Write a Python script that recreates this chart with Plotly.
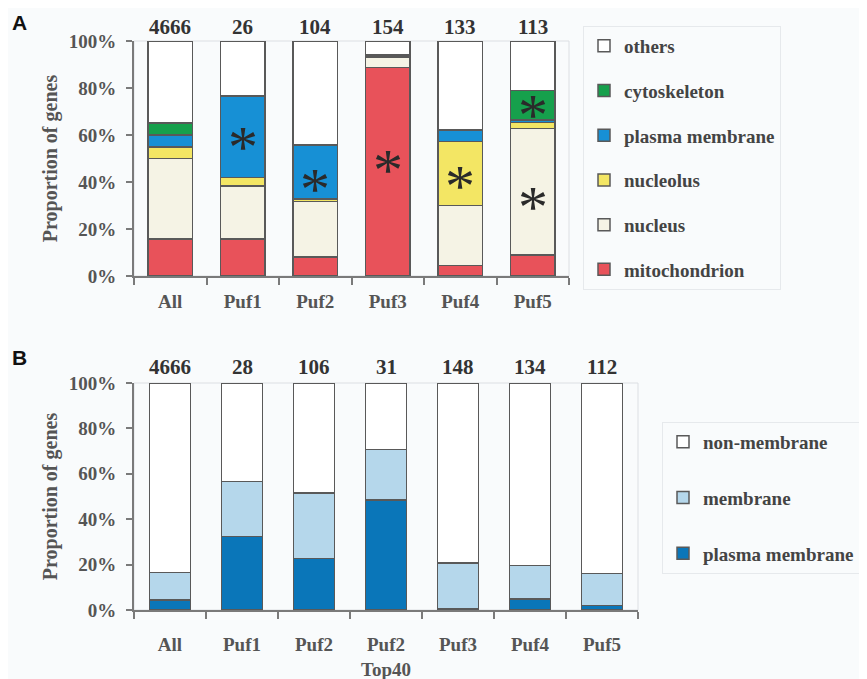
import plotly.graph_objects as go

# ---------------- Panel A data ----------------
cats_a = ["All", "Puf1", "Puf2", "Puf3", "Puf4", "Puf5"]
counts_a = ["4666", "26", "104", "154", "133", "113"]
mito = [15.7, 15.7, 8.1, 88.7, 4.4, 8.9]
nucleus = [34.4, 22.7, 23.5, 4.3, 25.7, 53.9]
nucleolus = [4.8, 3.6, 1.2, 0.0, 27.1, 2.6]
plasma = [5.2, 34.6, 22.9, 0.6, 4.9, 1.0]
cyto = [5.1, 0.0, 0.0, 0.4, 0.3, 12.5]
others = [34.8, 23.4, 44.3, 6.0, 37.6, 21.1]
star_cats = ["Puf1", "Puf2", "Puf3", "Puf4", "Puf5", "Puf5"]
star_vals = [58.6, 40.9, 48.9, 42.3, 72.3, 33.0]

# ---------------- Panel B data ----------------
cats_b = ["All", "Puf1", "Puf2", "Puf2<br>Top40", "Puf3", "Puf4", "Puf5"]
counts_b = ["4666", "28", "106", "31", "148", "134", "112"]
pm_b = [4.4, 32.3, 22.6, 48.4, 0.6, 4.8, 1.9]
memb_b = [12.2, 24.4, 29.0, 22.4, 20.2, 14.7, 14.1]
nonmemb_b = [83.4, 43.3, 48.4, 29.2, 79.2, 80.5, 84.0]

tick_vals = [0, 20, 40, 60, 80, 100]
tick_text = ["0%", "20%", "40%", "60%", "80%", "100%"]

W, H = 867, 679
OFF = 8  # page body margin


def px(x):
    return (x - OFF) / W


def py(y):
    return 1 - (y - OFF) / H


BG = "#f9fbfc"
SERIF = "Liberation Serif"
GRAY = "#555555"
LINE = "#595959"

fig = go.Figure()

series_a = [
    ("mitochondrion", mito, "#e8525a"),
    ("nucleus", nucleus, "#f5f3e5"),
    ("nucleolus", nucleolus, "#f3e664"),
    ("plasma membrane", plasma, "#1790d5"),
    ("cytoskeleton", cyto, "#16a04c"),
    ("others", others, "#ffffff"),
]
n_a = len(series_a)
for i, (name, vals, col) in enumerate(series_a):
    fig.add_trace(go.Bar(
        x=cats_a, y=vals, name=name, width=0.62,
        marker=dict(color=col, line=dict(color=LINE, width=1.5)),
        xaxis="x", yaxis="y", legend="legend", legendgroup=name,
        legendrank=n_a - i,
    ))

series_b = [
    ("plasma membrane", pm_b, "#0a76b9"),
    ("membrane", memb_b, "#b5d7eb"),
    ("non-membrane", nonmemb_b, "#ffffff"),
]
n_b = len(series_b)
for i, (name, vals, col) in enumerate(series_b):
    fig.add_trace(go.Bar(
        x=cats_b, y=vals, name=name, width=0.57,
        marker=dict(color=col, line=dict(color=LINE, width=1.5)),
        xaxis="x2", yaxis="y2", legend="legend2", legendgroup="b_" + name,
        legendrank=n_b - i,
    ))

# asterisks
for c, v in zip(star_cats, star_vals):
    fig.add_annotation(x=c, y=v, xref="x", yref="y", text="*", showarrow=False,
                       font=dict(family=SERIF, size=60, color="#2a2a2a"),
                       yshift=-9)

# counts above bars
for c, n in zip(cats_a, counts_a):
    fig.add_annotation(x=c, y=1, xref="x", yref="y domain", text=n, showarrow=False,
                       yanchor="middle", yshift=14,
                       font=dict(family=SERIF, size=21, color="#333333", weight="bold"))
for c, n in zip(cats_b, counts_b):
    fig.add_annotation(x=c, y=1, xref="x2", yref="y2 domain", text=n, showarrow=False,
                       yanchor="middle", yshift=16,
                       font=dict(family=SERIF, size=21, color="#333333", weight="bold"))

# panel letters
fig.add_annotation(x=px(10), y=py(22), xref="paper", yref="paper", text="<b>A</b>",
                   showarrow=False, xanchor="left", yanchor="middle",
                   font=dict(family="Liberation Sans", size=21, color="#111111"))
fig.add_annotation(x=px(10), y=py(358), xref="paper", yref="paper", text="<b>B</b>",
                   showarrow=False, xanchor="left", yanchor="middle",
                   font=dict(family="Liberation Sans", size=21, color="#111111"))

# faint plot-area borders (top/right)
for xr, yr in (("x domain", "y domain"), ("x2 domain", "y2 domain")):
    fig.add_shape(type="rect", xref=xr, yref=yr, x0=0, x1=1, y0=0, y1=1,
                  line=dict(color="#dcdfe3", width=1), layer="below")

tickfont = dict(family=SERIF, size=19, color=GRAY, weight="bold")
yax = dict(range=[0, 100], tickmode="array", tickvals=tick_vals, ticktext=tick_text,
           automargin=False,
           showgrid=False, zeroline=False, showline=True, linecolor="#7a7a7a", linewidth=2,
           ticks="outside", ticklen=6, tickcolor="#7a7a7a", tickwidth=1.5,
           tickfont=tickfont, ticklabelstandoff=6,
           title=dict(text="Proportion of genes",
                      font=dict(family=SERIF, size=20, color=GRAY, weight="bold"),
                      standoff=6))
xax = dict(showgrid=False, zeroline=False, showline=True, linecolor="#7a7a7a", linewidth=2,
           automargin=False,
           ticks="outside", ticklen=7, tickcolor="#7a7a7a", tickwidth=1.5,
           tickson="boundaries", tickfont=tickfont)

legfont = dict(family=SERIF, size=19, color="#444444", weight="bold")
fig.update_layout(
    width=W, height=H, paper_bgcolor=BG, plot_bgcolor=BG,
    margin=dict(l=0, r=0, t=0, b=0, autoexpand=False),
    barmode="stack", bargap=0.38,
    xaxis=dict(xax, domain=[px(134), px(569)], anchor="y", ticklabelstandoff=7),
    yaxis=dict(yax, domain=[py(276), py(41)], anchor="x"),
    xaxis2=dict(xax, domain=[px(134), px(638)], anchor="y2", ticklabelstandoff=16),
    yaxis2=dict(yax, domain=[py(610), py(383)], anchor="x2"),
    legend=dict(x=px(583), y=py(26), xanchor="left", yanchor="top",
                traceorder="grouped", tracegroupgap=17,
                bgcolor=BG, bordercolor="#e6e9ec", borderwidth=1,
                font=legfont, itemwidth=30),
    legend2=dict(x=px(662), y=py(422), xanchor="left", yanchor="top",
                 traceorder="grouped", tracegroupgap=28,
                 bgcolor=BG, bordercolor="#e6e9ec", borderwidth=1,
                 font=legfont, itemwidth=30),
    showlegend=True,
)

fig.write_html("out.html")
